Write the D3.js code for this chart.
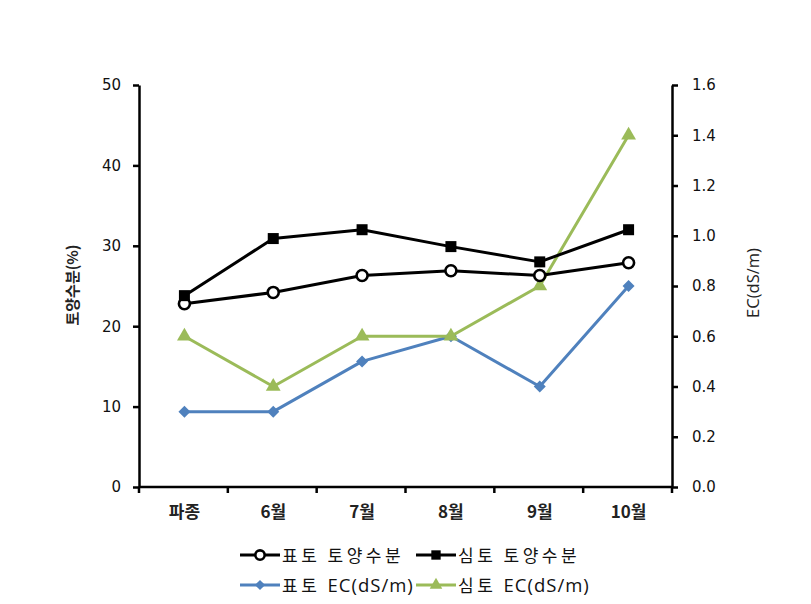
<!DOCTYPE html>
<html><head><meta charset="utf-8">
<script src="https://cdn.jsdelivr.net/npm/d3@7"></script>
<style>body{margin:0;background:#fff;} svg{display:block;}</style>
</head><body>
<svg id="c" width="811" height="604"></svg>
<script>
const categories = ["파종", "6월", "7월", "8월", "9월", "10월"];
const surfaceMoisture = [22.8, 24.2, 26.3, 26.9, 26.3, 27.9];
const deepMoisture = [23.8, 30.9, 32.0, 29.9, 28.0, 32.0];
const surfaceEC = [0.3, 0.3, 0.5, 0.6, 0.4, 0.8];
const deepEC = [0.6, 0.4, 0.6, 0.6, 0.8, 1.4];
const leftTicks = [0, 10, 20, 30, 40, 50];
const rightTicks = [0, 0.2, 0.4, 0.6, 0.8, 1.0, 1.2, 1.4, 1.6];
const legendLabels = ["표토 토양수분", "심토 토양수분", "표토 EC(dS/m)", "심토 EC(dS/m)"];
const leftTitle = "토양수분(%)";
const rightTitle = "EC(dS/m)";

const svg = d3.select("#c");
const L = 139, R = 672, T = 85, B = 487;
const x = d3.scaleBand().domain(categories).range([140, 673]);
const cx = d => x(d) + x.bandwidth() / 2;
const yL = d3.scaleLinear().domain([0, 50]).range([B, T]);
const yR = d3.scaleLinear().domain([0, 1.6]).range([B, T]);
const font = "'DejaVu Sans', Verdana, sans-serif";
const kfont = "'Noto Sans CJK KR', sans-serif";

// left axis
const gl = svg.append("g").attr("transform", `translate(${L},0)`)
  .call(d3.axisLeft(yL).tickValues(leftTicks).tickSize(6).tickPadding(12).tickSizeOuter(0));
gl.select(".domain").attr("stroke", "#000").attr("stroke-width", 2.5);
gl.selectAll(".tick line").attr("stroke", "#000").attr("stroke-width", 2.5);
gl.selectAll(".tick text").attr("font-family", font).attr("font-size", 15).attr("fill", "#111");

// right axis
const gr = svg.append("g").attr("transform", `translate(${R},0)`)
  .call(d3.axisRight(yR).tickValues(rightTicks).tickFormat(d3.format(".1f")).tickSize(6).tickPadding(14).tickSizeOuter(0));
gr.select(".domain").attr("stroke", "#000").attr("stroke-width", 2.5);
gr.selectAll(".tick line").attr("stroke", "#000").attr("stroke-width", 2.5);
gr.selectAll(".tick text").attr("font-family", font).attr("font-size", 15).attr("fill", "#111");

// bottom axis
const gb = svg.append("g").attr("transform", `translate(0,${B})`)
  .call(d3.axisBottom(x).tickSize(0).tickPadding(19));
gb.select(".domain").remove();
svg.append("line").attr("x1", L).attr("x2", R).attr("y1", B).attr("y2", B)
  .attr("stroke", "#000").attr("stroke-width", 2.5);
const bounds = categories.map(c => x(c)).concat([x(categories[categories.length - 1]) + x.bandwidth()]);
svg.selectAll("line.bt").data(bounds).join("line").attr("class", "bt")
  .attr("x1", d => d - 1).attr("x2", d => d - 1).attr("y1", B).attr("y2", B + 6)
  .attr("stroke", "#000").attr("stroke-width", 2.5);
gb.selectAll(".tick text").attr("font-family", kfont).attr("font-size", 17).attr("font-weight", 600).attr("fill", "#222");

// titles
svg.append("text").attr("transform", "translate(78,285) rotate(-90)")
  .attr("text-anchor", "middle").attr("font-family", kfont).attr("font-size", 15).attr("font-weight", 600)
  .attr("fill", "#222").text(leftTitle);
svg.append("text").attr("transform", "translate(759,283) rotate(-90)")
  .attr("text-anchor", "middle").attr("font-family", "'Open Sans', sans-serif").attr("font-size", 16.5)
  .attr("fill", "#222").text(rightTitle);

const BLUE = "#4F81BD", GREEN = "#9BBB59";
const series = [
  { vals: surfaceMoisture, y: yL, color: "#000", w: 3, marker: "circle" },
  { vals: deepMoisture, y: yL, color: "#000", w: 3, marker: "square" },
  { vals: surfaceEC, y: yR, color: BLUE, w: 3, marker: "diamond" },
  { vals: deepEC, y: yR, color: GREEN, w: 3, marker: "triangle" }
];

function drawMarker(g, type, px, py, color, scale) {
  const s = scale || 1;
  if (type === "circle") {
    g.append("circle").attr("cx", px).attr("cy", py).attr("r", 5.5 * s)
      .attr("fill", "#fff").attr("stroke", color).attr("stroke-width", 2.6);
  } else if (type === "square") {
    g.append("rect").attr("x", px - 5.5 * s).attr("y", py - 5.5 * s).attr("width", 11 * s).attr("height", 11 * s)
      .attr("fill", "#000");
  } else if (type === "diamond") {
    const r = 6 * s;
    g.append("path").attr("d", `M${px},${py - r}L${px + r},${py}L${px},${py + r}L${px - r},${py}Z`)
      .attr("fill", color);
  } else {
    g.append("path").attr("d", d3.symbol(d3.symbolTriangle, 95 * s * s)()).attr("transform", `translate(${px},${py})`)
      .attr("fill", color);
  }
}

// draw EC series first, then moisture on top
[2, 3, 0, 1].forEach(i => {
  const s = series[i];
  const line = d3.line().x((d, j) => cx(categories[j])).y(d => s.y(d));
  svg.append("path").datum(s.vals).attr("d", line).attr("fill", "none")
    .attr("stroke", s.color).attr("stroke-width", s.w).attr("stroke-linejoin", "round");
  const g = svg.append("g");
  s.vals.forEach((v, j) => drawMarker(g, s.marker, cx(categories[j]), s.y(v), s.color));
});

// legend
const legPos = [[240, 555], [416, 555], [240, 585], [416, 585]];
series.forEach((s, i) => {
  const [lx, ly] = legPos[i];
  const g = svg.append("g");
  g.append("line").attr("x1", lx).attr("x2", lx + 40).attr("y1", ly).attr("y2", ly)
    .attr("stroke", s.color).attr("stroke-width", 3);
  drawMarker(g, s.marker, lx + 20, ly, s.color, 0.85);
  const t = g.append("text").attr("x", lx + 42).attr("y", ly + 6.5)
    .attr("font-family", kfont).attr("font-size", 17).attr("fill", "#111");
  const parts = legendLabels[i].match(/[\uAC00-\uD7A3 ]+|[^\uAC00-\uD7A3 ]+/g);
  parts.forEach(p => {
    const isK = /[\uAC00-\uD7A3]/.test(p);
    t.append("tspan").attr("letter-spacing", isK ? 3.5 : 1.0)
      .attr("font-family", isK ? kfont : "'Open Sans', sans-serif")
      .attr("font-size", isK ? 17 : 18.5)
      .text(p);
  });
});
</script>
</body></html>
